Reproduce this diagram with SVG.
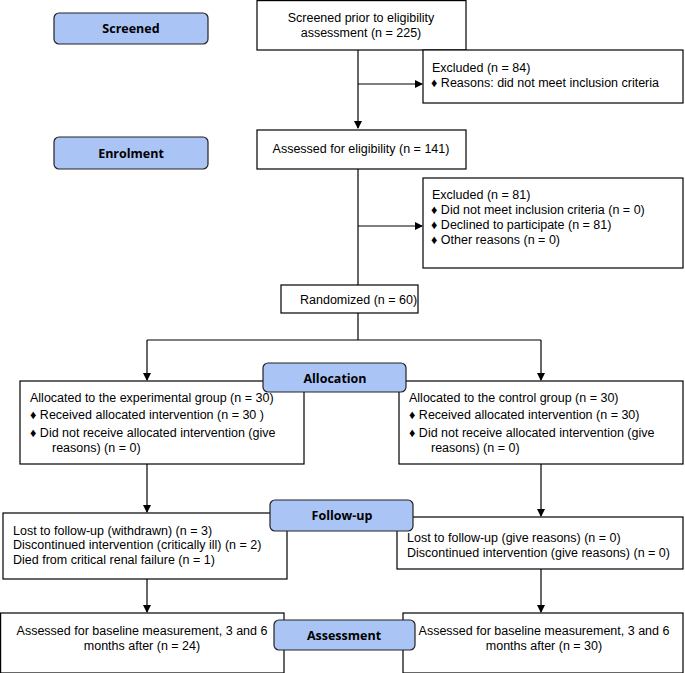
<svg xmlns="http://www.w3.org/2000/svg" width="685" height="673" viewBox="0 0 685 673">
<style>
.b{fill:#fff;stroke:#000;stroke-width:1.2}
.l{fill:#a9c4f5;stroke:#222;stroke-width:1.2}
text{font-family:"Liberation Sans",Arial,sans-serif;font-size:12.5px;fill:#000}
.h{font-family:"Open Sans","DejaVu Sans",sans-serif;font-weight:bold;font-size:12.5px;text-anchor:middle}
.c{text-anchor:middle}
.e{fill:none;stroke:#000;stroke-width:1.2}
</style>
<defs><marker id="a" markerWidth="8" markerHeight="8" refX="7" refY="4" orient="auto" markerUnits="userSpaceOnUse"><path d="M0,0 L8,4 L0,8z" fill="#000" stroke="none"/></marker></defs>
<g id="connectors" class="e">
<path d="M358,50 V128" marker-end="url(#a)"/>
<path d="M358,84 H422" marker-end="url(#a)"/>
<path d="M358,169 V285"/>
<path d="M358,226 H422" marker-end="url(#a)"/>
<path d="M358,313 V340 M147,340 H541"/>
<path d="M147,340 V380" marker-end="url(#a)"/>
<path d="M541,340 V380" marker-end="url(#a)"/>
<path d="M147,464 V512" marker-end="url(#a)"/>
<path d="M541,464 V516" marker-end="url(#a)"/>
<path d="M147,579 V612" marker-end="url(#a)"/>
<path d="M541,569 V612" marker-end="url(#a)"/>
</g>
<g id="screened-label"><rect class="l" x="54" y="13" width="154" height="31" rx="5"/><text class="h" x="131" y="33">Screened</text></g>
<g id="enrolment-label"><rect class="l" x="54" y="137" width="154" height="32" rx="5"/><text class="h" x="131" y="158">Enrolment</text></g>
<g id="screened"><rect class="b" x="257" y="0.6" width="209" height="49.4"/><text class="c" x="361" y="22">Screened prior to eligibility</text><text class="c" x="361" y="37">assessment (n = 225)</text></g>
<g id="excluded1"><rect class="b" x="423" y="50" width="260" height="53"/><text x="432" y="72">Excluded (n = 84)</text><text x="431" y="87">♦  Reasons: did not meet inclusion criteria</text></g>
<g id="assessed"><rect class="b" x="257" y="130" width="209" height="39"/><text class="c" x="361" y="153">Assessed for eligibility (n = 141)</text></g>
<g id="excluded2"><rect class="b" x="423" y="178" width="260" height="90"/><text x="432" y="199">Excluded (n = 81)</text><text x="431" y="214">♦  Did not meet inclusion criteria (n = 0)</text><text x="431" y="229">♦  Declined to participate (n = 81)</text><text x="431" y="244">♦  Other reasons (n = 0)</text></g>
<g id="randomized"><rect class="b" x="281" y="285" width="137" height="28"/><text x="300" y="304">Randomized (n = 60)</text></g>
<g id="alloc-left"><rect class="b" x="20" y="381" width="284" height="83"/><text x="30" y="402">Allocated to the experimental group (n = 30)</text><text x="30" y="419">♦ Received allocated intervention (n = 30 )</text><text x="30" y="437">♦ Did not receive allocated intervention (give</text><text x="52" y="452">reasons) (n = 0)</text></g>
<g id="alloc-right"><rect class="b" x="399" y="381" width="284" height="83"/><text x="409" y="402">Allocated to the control group (n = 30)</text><text x="409" y="419">♦ Received allocated intervention (n = 30)</text><text x="409" y="437">♦ Did not receive allocated intervention (give</text><text x="431" y="452">reasons) (n = 0)</text></g>
<g id="allocation-label"><rect class="l" x="263" y="363" width="143" height="29" rx="5"/><text class="h" x="335" y="383">Allocation</text></g>
<g id="follow-left"><rect class="b" x="3" y="513" width="284" height="66"/><text x="13" y="535">Lost to follow-up (withdrawn) (n = 3)</text><text x="13" y="549">Discontinued intervention (critically ill) (n = 2)</text><text x="13" y="564">Died from critical renal failure (n = 1)</text></g>
<g id="follow-right"><rect class="b" x="397" y="517" width="286" height="52"/><text x="407" y="542">Lost to follow-up (give reasons) (n = 0)</text><text x="407" y="557">Discontinued intervention (give reasons) (n = 0)</text></g>
<g id="followup-label"><rect class="l" x="270" y="500" width="143" height="31" rx="5"/><text class="h" x="342" y="520">Follow-up</text></g>
<g id="assess-left"><rect class="b" x="0.6" y="613" width="283.4" height="60"/><text class="c" x="142" y="635">Assessed for baseline measurement, 3 and 6</text><text class="c" x="142" y="650">months after (n = 24)</text></g>
<g id="assess-right"><rect class="b" x="403" y="613" width="280" height="60"/><text class="c" x="544" y="635">Assessed for baseline measurement, 3 and 6</text><text class="c" x="544" y="650">months after (n = 30)</text></g>
<g id="assessment-label"><rect class="l" x="274" y="620" width="141" height="30" rx="5"/><text class="h" x="344" y="640">Assessment</text></g>
</svg>
